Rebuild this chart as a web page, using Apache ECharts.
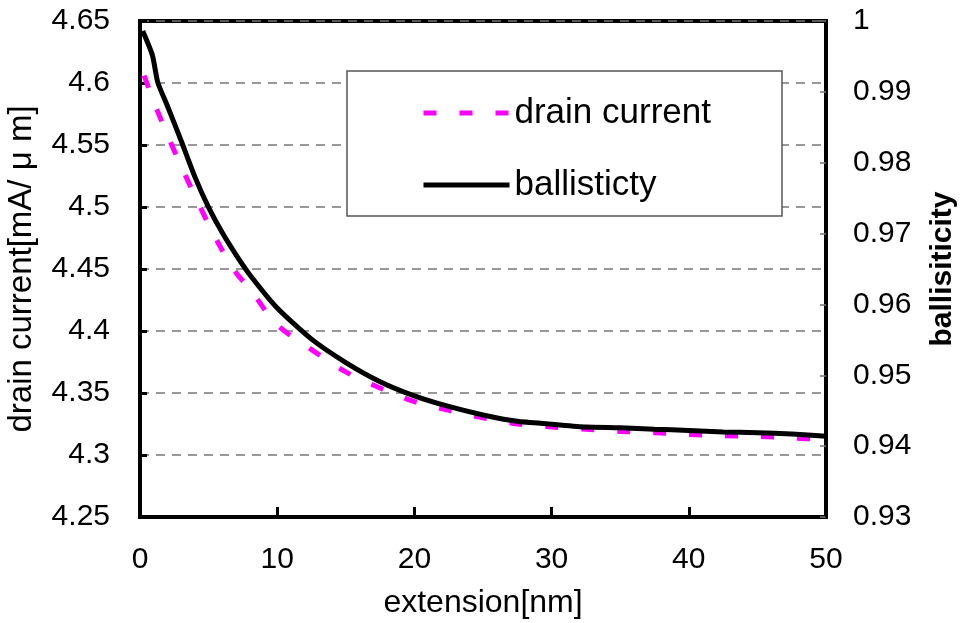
<!DOCTYPE html>
<html>
<head>
<meta charset="utf-8">
<script src="https://cdn.jsdelivr.net/npm/echarts@6/dist/echarts.min.js"></script>
<style>
  html, body { margin: 0; padding: 0; background: #fff; }
  #chart { width: 962px; height: 623px; }
</style>
</head>
<body>
<div id="chart"></div>
<script>
// drain current vs extension (left axis)
const currentX = [0.3, 1, 2, 3, 4, 5, 6, 7, 8, 10, 12.5, 15, 17.5, 20, 22.5, 25, 27.5, 30, 32.5, 35, 37.5, 40, 42.5, 45, 47.5, 50];
const currentY = [4.606, 4.585, 4.558, 4.533, 4.509, 4.486, 4.465, 4.447, 4.434, 4.405, 4.385, 4.367, 4.354, 4.343, 4.336, 4.330, 4.325, 4.3225, 4.3207, 4.319, 4.318, 4.3165, 4.3155, 4.315, 4.3138, 4.3123];

// ballisticity vs extension (right axis)
const ballX = [0.2, 0.9, 1.3, 2, 3, 4, 5, 6, 7, 8, 10, 12.5, 15, 17.5, 20, 22.5, 25, 27.5, 30, 32.5, 35, 37.5, 40, 42.5, 45, 47.5, 50];
const ballY = [0.9986, 0.9952, 0.9913, 0.988, 0.9831, 0.978, 0.9737, 0.9701, 0.967, 0.9642, 0.9595, 0.9551, 0.9518, 0.9491, 0.9471, 0.9456, 0.9444, 0.9435, 0.9431, 0.9427, 0.9426, 0.9424, 0.9422, 0.942, 0.9419, 0.9417, 0.9414];

const seriesNames = ['drain current', 'ballisticty'];

const FONT = 'Liberation Sans, Arial, sans-serif';

const chart = echarts.init(document.getElementById('chart'));

const pairs = (xs, ys) => xs.map((x, i) => [x, ys[i]]);

chart.setOption({
  backgroundColor: '#ffffff',
  animation: false,
  textStyle: { fontFamily: FONT, color: '#000' },
  grid: {
    left: 140, right: 136, top: 21, bottom: 106,
    outerBoundsMode: 'none', containLabel: false,
    show: true, borderColor: '#000', borderWidth: 4, backgroundColor: 'transparent'
  },
  legend: {
    left: 416, top: 90, orient: 'vertical',
    itemWidth: 86, itemHeight: 14, itemGap: 36,
    itemStyle: { opacity: 0 },
    lineStyle: { width: 5 },
    textStyle: { fontFamily: FONT, fontSize: 35, color: '#000', lineHeight: 36 },
    data: seriesNames
  },
  graphic: [{
    type: 'rect', z: 3,
    shape: { x: 347, y: 71, width: 435, height: 145 },
    style: { fill: '#fff', stroke: '#555', lineWidth: 1.5 }
  }],
  xAxis: {
    type: 'value', min: 0, max: 50, interval: 10,
    name: 'extension[nm]', nameLocation: 'middle', nameGap: 70,
    nameTextStyle: { fontSize: 32, fontFamily: FONT, color: '#000' },
    axisLine: { lineStyle: { color: '#000', width: 4 } },
    axisTick: { inside: true, length: 10, lineStyle: { color: '#000', width: 3 } },
    axisLabel: { fontSize: 30, margin: 28, color: '#000' },
    splitLine: { show: false }
  },
  yAxis: [{
    type: 'value', min: 4.25, max: 4.65, interval: 0.05,
    name: 'drain current[mA/ μ m]', nameLocation: 'middle', nameGap: 102,
    nameTextStyle: { fontSize: 33, fontFamily: FONT, color: '#000' },
    axisLine: { lineStyle: { color: '#000', width: 4 } },
    axisTick: { inside: true, length: 7, lineStyle: { color: '#000', width: 3 } },
    axisLabel: { fontSize: 30, margin: 30, color: '#000' },
    splitLine: { show: true, lineStyle: { color: '#777', type: [9, 7], width: 1.5 } }
  }, {
    type: 'value', min: 0.93, max: 1, interval: 0.01, position: 'right',
    name: 'ballisiticity', nameLocation: 'middle', nameGap: 102, nameRotate: 90,
    nameTextStyle: { fontSize: 30, fontWeight: 'bold', fontFamily: FONT, color: '#000' },
    axisLine: { lineStyle: { color: '#000', width: 4 } },
    axisTick: { inside: true, length: 6, lineStyle: { color: '#777', width: 1.5 } },
    axisLabel: { fontSize: 30, margin: 27, color: '#000' },
    splitLine: { show: false }
  }],
  series: [{
    name: seriesNames[0], type: 'line', yAxisIndex: 0,
    data: pairs(currentX, currentY),
    symbol: 'none', smooth: 0.3,
    lineStyle: { color: '#ff00ff', width: 5, type: [13, 23] },
    itemStyle: { color: '#ff00ff' }
  }, {
    name: seriesNames[1], type: 'line', yAxisIndex: 1,
    data: pairs(ballX, ballY),
    symbol: 'none', smooth: 0.2,
    lineStyle: { color: '#000', width: 5 },
    itemStyle: { color: '#000' }
  }]
});
</script>
</body>
</html>
